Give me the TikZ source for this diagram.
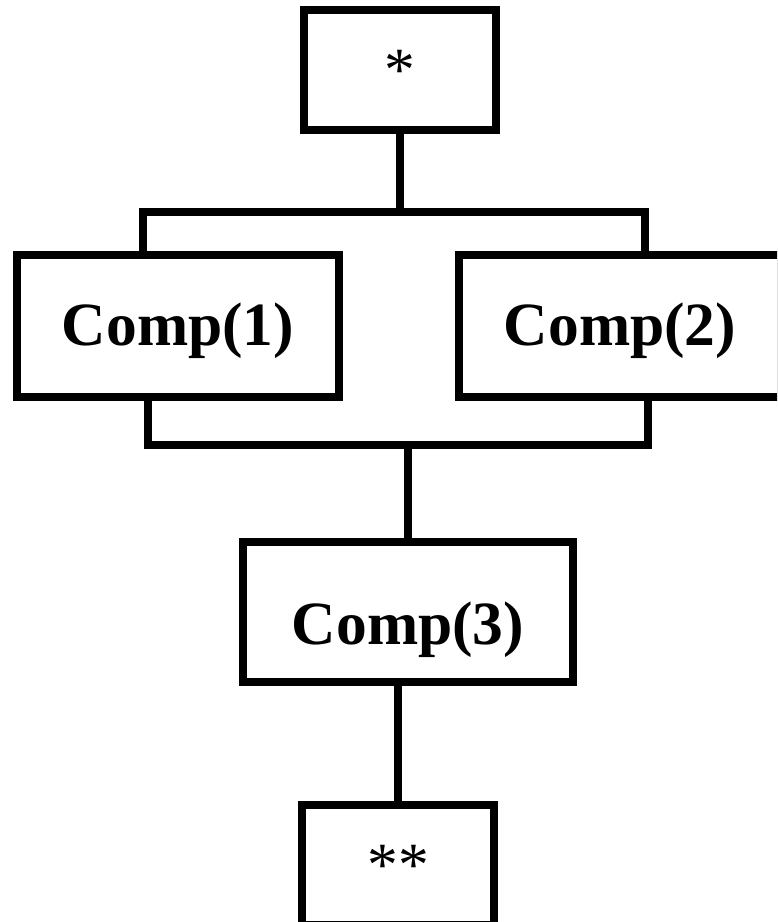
\documentclass[tikz,border=0pt]{standalone}
\usepackage{fontspec}
\setmainfont{Liberation Serif}
\usepackage{tikz}
\usetikzlibrary{calc}

\begin{document}
\begin{tikzpicture}[x=0.02cm, y=-0.02cm, line width=4.3pt,
  leaf/.style={rectangle, draw=black, fill=white, line width=4.3pt,
               font=\fontsize{35}{40}\selectfont, minimum width=3.84cm, minimum height=2.4cm},
  comp/.style={rectangle, draw=black, fill=white, line width=4.3pt,
               font=\fontsize{35}{40}\selectfont\bfseries, text height=30pt, text depth=7.7pt,
               minimum width=6.44cm, minimum height=2.84cm},
  wire/.style={draw=black, line width=4.3pt}]
  \useasboundingbox (0,0) rectangle (777,922);
  \clip (0,0) rectangle (777,922);
  \node[leaf] (top) at (400,70) {*};
  \node[comp] (c1) at (178,326) {Comp(1)};
  \node[comp] (c2) at (620,326) {Comp(2)};
  \node[comp, minimum width=6.6cm, minimum height=2.8cm, text height=44.4pt] (c3) at (408,612) {Comp(3)};
  \node[leaf] (bot) at (398,865) {**};
  \coordinate (splitL) at (143,212);
  \coordinate (splitR) at (645,212);
  \coordinate (joinL) at (148,445);
  \coordinate (joinR) at (648,445);
  \draw[wire] (top.south) -- (top.south |- splitL);
  \draw[wire] (c1.north -| splitL) |- (splitR) -- (c2.north -| splitR);
  \draw[wire] (c1.south -| joinL) |- (joinR) -- (c2.south -| joinR);
  \draw[wire] (c3.north) -- (c3.north |- joinL);
  \draw[wire] (c3.south -| bot.north) -- (bot.north);
\end{tikzpicture}
\end{document}
